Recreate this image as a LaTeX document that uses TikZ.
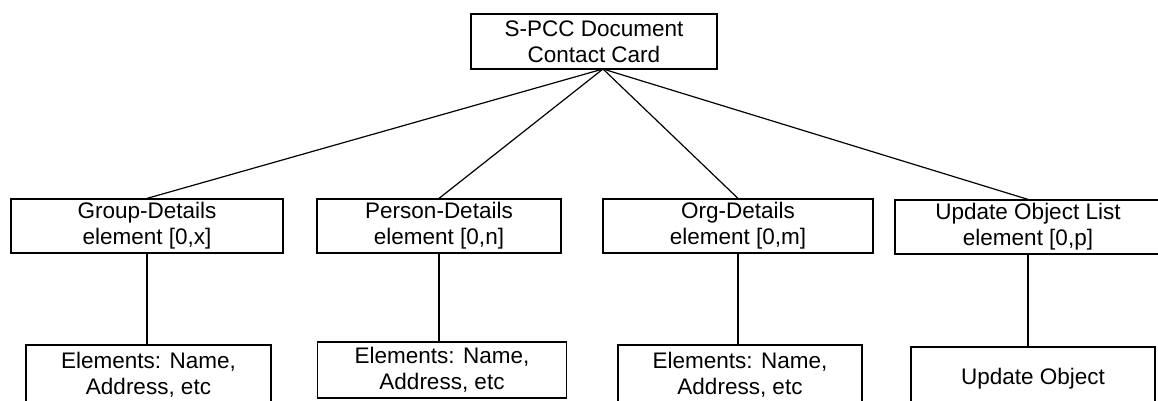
\documentclass[tikz,border=0pt]{standalone}
\usepackage{fontspec}
\setmainfont{Liberation Sans}
\begin{document}
\begin{tikzpicture}[x=1pt,y=-1pt,
  box/.style={draw=black,line width=1.2pt,rectangle,inner sep=0pt,align=center,
    font=\fontsize{22.5}{26}\selectfont},
  link/.style={draw=black,line width=1.2pt}]
\useasboundingbox (0,0) rectangle (1158,401);
% top
\node[box,minimum width=246,minimum height=55] (top) at (594,41.5) {S-PCC Document\\Contact Card};
\coordinate (hub) at (603,69);
% second row
\node[box,minimum width=272,minimum height=54] (grp) at (147,226) {Group-Details\\element [0,x]};
\node[box,minimum width=244,minimum height=54] (per) at (439,226) {Person-Details\\element [0,n]};
\node[box,minimum width=270,minimum height=54] (org) at (738,226) {Org-Details\\element [0,m]};
\node[box,minimum width=266,minimum height=54] (upd) at (1028,227) {Update Object List\\element [0,p]};
% third row
\node[box,minimum width=245,minimum height=59] (grpb) at (148.5,374.5) {Elements: Name,\\Address, etc};
\node[box,minimum width=249,minimum height=56] (perb) at (442,370) {Elements: Name,\\Address, etc};
\node[box,minimum width=244,minimum height=59] (orgb) at (740,374.5) {Elements: Name,\\Address, etc};
\node[box,minimum width=244,minimum height=63] (updb) at (1033,378.5) {Update Object};
% connectors
\draw[link] (hub) -- (grp.north);
\draw[link] (hub) -- (per.north);
\draw[link] (hub) -- (org.north);
\draw[link] (hub) -- (upd.north);
\draw[link] (grp.south) -- (grp.south |- grpb.north);
\draw[link] (per.south) -- (per.south |- perb.north);
\draw[link] (org.south) -- (org.south |- orgb.north);
\draw[link] (upd.south) -- (upd.south |- updb.north);
\end{tikzpicture}
\end{document}
